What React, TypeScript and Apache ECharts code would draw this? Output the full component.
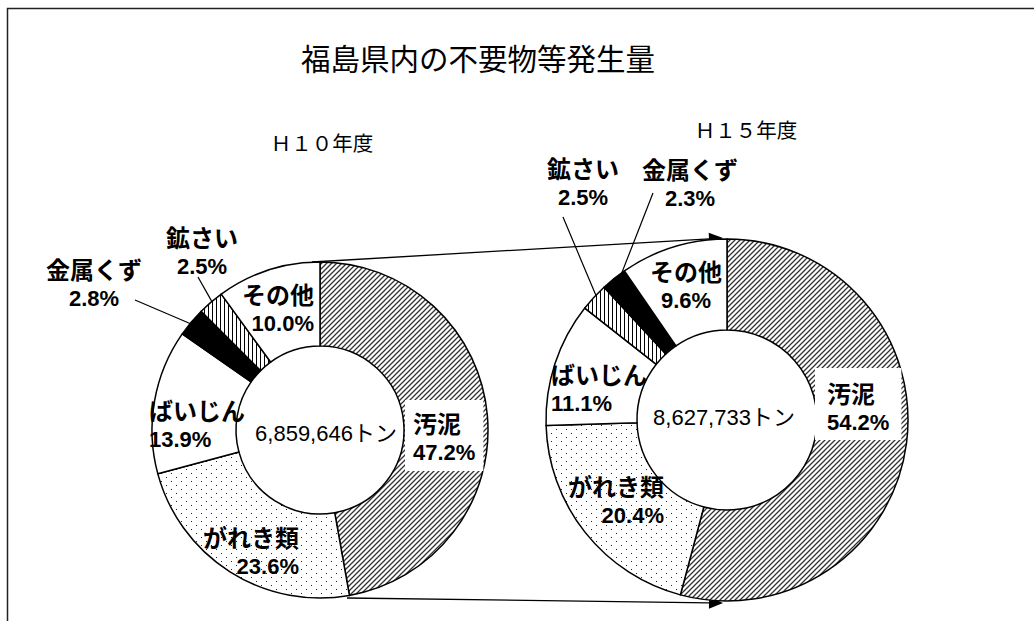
import React, { useEffect, useRef } from 'react';
import * as echarts from 'echarts';

// ---- data ----
const titleText = '福島県内の不要物等発生量';
const yearLabels = ['Ｈ１０年度', 'Ｈ１５年度'];
const totals = [6859646, 8627733];
const namesH10 = ['汚泥', 'がれき類', 'ばいじん', '金属くず', '鉱さい', 'その他'];
const valuesH10 = [47.2, 23.6, 13.9, 2.8, 2.5, 10.0];
const namesH15 = ['汚泥', 'がれき類', 'ばいじん', '鉱さい', '金属くず', 'その他'];
const valuesH15 = [54.2, 20.4, 11.1, 2.5, 2.3, 9.6];

// ---- layout (positions / styles) ----
const CENTER_L = [320, 430];
const RADIUS_L = [84, 168];
const CENTER_R = [727, 420];
const RADIUS_R = [90, 181];

type Spot = { x: number; y: number; align: string; va?: string; end?: number[]; pad?: number[] };

const spotsL: Record<string, Spot> = {
  '汚泥': { x: 405, y: 400, align: 'left', va: 'top', pad: [7, 8, 4, 8] },
  'がれき類': { x: 299, y: 551, align: 'right' },
  'ばいじん': { x: 149, y: 424, align: 'left' },
  '金属くず': { x: 94, y: 283, align: 'center', end: [135, 300] },
  '鉱さい': { x: 202, y: 251, align: 'center', end: [198, 277] },
  'その他': { x: 314, y: 308, align: 'right' },
};
const spotsR: Record<string, Spot> = {
  '汚泥': { x: 815, y: 368, align: 'left', va: 'top', pad: [9, 12, 3, 12] },
  'がれき類': { x: 664, y: 500, align: 'right' },
  'ばいじん': { x: 551, y: 388, align: 'left' },
  '鉱さい': { x: 583, y: 182, align: 'center', end: [563, 217] },
  '金属くず': { x: 690, y: 183, align: 'center', end: [653, 193] },
  'その他': { x: 686, y: 285, align: 'center' },
};

function tile(w: number, h: number, draw: (ctx: CanvasRenderingContext2D) => void) {
  const c = document.createElement('canvas');
  c.width = w;
  c.height = h;
  const ctx = c.getContext('2d')!;
  ctx.fillStyle = '#ffffff';
  ctx.fillRect(0, 0, w, h);
  draw(ctx);
  return { image: c.toDataURL(), repeat: 'repeat', imageWidth: w, imageHeight: h };
}

function makeFills(): Record<string, any> {
  const diag = tile(5, 5, (ctx) => {
    ctx.strokeStyle = '#333';
    ctx.lineWidth = 1.3;
    ctx.beginPath();
    ctx.moveTo(-1, 6); ctx.lineTo(6, -1);
    ctx.moveTo(-1, 1); ctx.lineTo(1, -1);
    ctx.moveTo(4, 6); ctx.lineTo(6, 4);
    ctx.stroke();
  });
  const dots = tile(10, 8, (ctx) => {
    ctx.fillStyle = '#222';
    ctx.fillRect(1, 1, 1, 1);
    ctx.fillRect(6, 5, 1, 1);
  });
  const vert = tile(4, 4, (ctx) => {
    ctx.fillStyle = '#000';
    ctx.fillRect(0, 0, 1, 4);
  });
  return {
    '汚泥': diag,
    'がれき類': dots,
    'ばいじん': '#ffffff',
    '金属くず': '#000000',
    '鉱さい': vert,
    'その他': '#ffffff',
  };
}

const CJK = '"Noto Sans CJK JP", sans-serif';
const LATIN = '"Liberation Sans", Arial, "Noto Sans CJK JP", sans-serif';

function richStyles() {
  const r: Record<string, any> = {};
  ['left', 'right', 'center'].forEach((al) => {
    r['a_' + al] = { fontFamily: CJK, fontWeight: 'bold', fontSize: 24, lineHeight: 30, color: '#000', align: al };
    r['n_' + al] = { fontFamily: LATIN, fontWeight: 'bold', fontSize: 22, lineHeight: 30, color: '#000', align: al };
  });
  return r;
}

function buildSeries(
  names: string[],
  values: number[],
  center: number[],
  radius: number[],
  spots: Record<string, Spot>,
  fills: Record<string, any>
) {
  const sum = values.reduce((a, b) => a + b, 0);
  const cum: number[] = [];
  let acc = 0;
  values.forEach((v) => {
    cum.push(acc);
    acc += v;
  });
  return {
    type: 'pie',
    center,
    radius,
    startAngle: 90,
    clockwise: true,
    avoidLabelOverlap: false,
    silent: true,
    emphasis: { disabled: true },
    itemStyle: { borderColor: '#000', borderWidth: 1.5 },
    label: {
      show: true,
      position: 'inside',
      color: '#000',
      textBorderWidth: 0,
      rich: richStyles(),
      formatter: (p: any) => {
        const al = spots[p.name].align;
        return `{a_${al}|${p.name}}\n{n_${al}|${Number(p.value).toFixed(1)}%}`;
      },
    },
    labelLine: { show: false, lineStyle: { color: '#000', width: 1.2 } },
    labelLayout: (params: any) => {
      const name = names[params.dataIndex];
      const s = spots[name];
      const res: any = { x: s.x, y: s.y, align: s.align, verticalAlign: s.va || 'middle' };
      if (s.end) {
        const i = params.dataIndex;
        const mid = (cum[i] + values[i] / 2) / sum;
        const th = mid * Math.PI * 2;
        const r = radius[1] - 6;
        const p0 = [center[0] + r * Math.sin(th), center[1] - r * Math.cos(th)];
        const pm = [(p0[0] + s.end[0]) / 2, (p0[1] + s.end[1]) / 2];
        res.labelLinePoints = [p0, pm, s.end];
      }
      return res;
    },
    data: names.map((n, i) => {
      const s = spots[n];
      const item: any = { name: n, value: values[i], itemStyle: { color: fills[n] } };
      if (s.end) {
        item.label = { position: 'outside' };
        item.labelLine = { show: true, length: 6, length2: 6 };
      }
      if (s.pad) {
        item.label = { backgroundColor: '#ffffff', padding: s.pad };
      }
      return item;
    }),
  };
}

function arrow(from: number[], tip: number[]) {
  const dx = tip[0] - from[0];
  const dy = tip[1] - from[1];
  const len = Math.sqrt(dx * dx + dy * dy);
  const ux = dx / len;
  const uy = dy / len;
  const L = 14;
  const W = 6;
  const base = [tip[0] - ux * L, tip[1] - uy * L];
  return [
    {
      type: 'line',
      shape: { x1: from[0], y1: from[1], x2: base[0], y2: base[1] },
      style: { stroke: '#000', lineWidth: 1.3 },
      silent: true,
    },
    {
      type: 'polygon',
      shape: {
        points: [
          tip,
          [base[0] - uy * W, base[1] + ux * W],
          [base[0] + uy * W, base[1] - ux * W],
        ],
      },
      style: { fill: '#000' },
      silent: true,
    },
  ];
}

export default function App() {
  const ref = useRef<HTMLDivElement>(null);
  useEffect(() => {
    const chart = echarts.init(ref.current!, null, { renderer: 'svg' });
    const fills = makeFills();
    const fmt = (n: number) => n.toLocaleString('en-US') + 'トン';
    const option: any = {
      animation: false,
      backgroundColor: '#ffffff',
      series: [
        buildSeries(namesH10, valuesH10, CENTER_L, RADIUS_L, spotsL, fills),
        buildSeries(namesH15, valuesH15, CENTER_R, RADIUS_R, spotsR, fills),
      ],
      graphic: [
        {
          type: 'rect',
          shape: { x: 7.5, y: 8.5, width: 1200, height: 800 },
          style: { fill: 'none', stroke: '#222', lineWidth: 1.5 },
          silent: true,
        },
        {
          type: 'text',
          x: 478,
          y: 57,
          style: { text: titleText, fontFamily: CJK, fontSize: 29.5, fill: '#000', textAlign: 'center', textVerticalAlign: 'middle' },
        },
        {
          type: 'text',
          x: 322,
          y: 142,
          style: { text: yearLabels[0], fontFamily: CJK, fontSize: 20.5, fill: '#000', textAlign: 'center', textVerticalAlign: 'middle' },
        },
        {
          type: 'text',
          x: 746,
          y: 129,
          style: { text: yearLabels[1], fontFamily: CJK, fontSize: 20.5, fill: '#000', textAlign: 'center', textVerticalAlign: 'middle' },
        },
        {
          type: 'text',
          x: 326,
          y: 433,
          style: { text: fmt(totals[0]), fontFamily: LATIN, fontSize: 22, fill: '#000', textAlign: 'center', textVerticalAlign: 'middle' },
        },
        {
          type: 'text',
          x: 724,
          y: 417,
          style: { text: fmt(totals[1]), fontFamily: LATIN, fontSize: 22, fill: '#000', textAlign: 'center', textVerticalAlign: 'middle' },
        },
        ...arrow([CENTER_L[0] - 8, CENTER_L[1] - RADIUS_L[1]], [CENTER_R[0] - 4, CENTER_R[1] - RADIUS_R[1] - 1]),
        ...arrow([347, 598], [CENTER_R[0] - 4, 603]),
      ],
    };
    chart.setOption(option);
    return () => chart.dispose();
  }, []);
  return (
    <div
      ref={ref}
      style={{ position: 'absolute', left: 0, top: 0, width: 1034, height: 621, background: '#fff' }}
    />
  );
}
